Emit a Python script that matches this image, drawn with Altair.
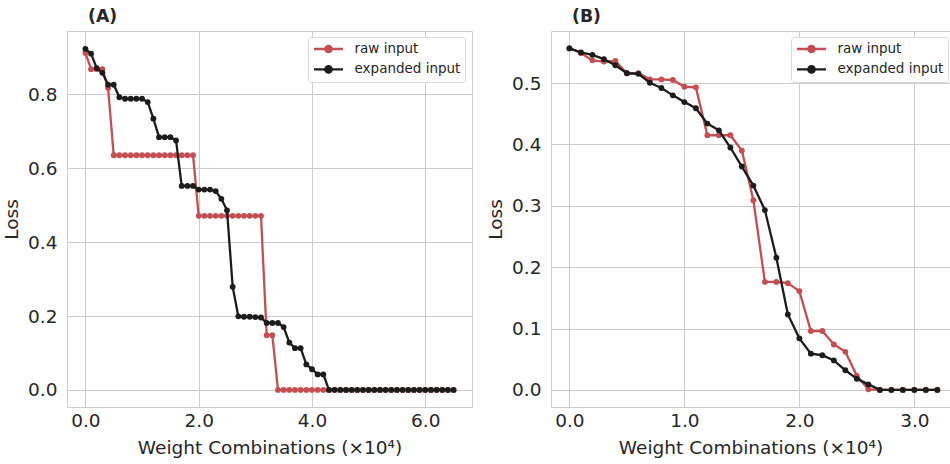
import altair as alt
import pandas as pd

FONT = "DejaVu Sans"
TEXT = "#262626"
GRID = "#cccccc"
SERIES = ["raw input", "expanded input"]
COLORS = ["#c44e52", "#1c1c1c"]
XTITLE = "Weight Combinations (×10⁴)"
YTITLE = "Loss"

# Panel (A)
a_x = [0.0, 0.1, 0.2, 0.3, 0.4, 0.5, 0.6, 0.7, 0.8, 0.9, 1.0, 1.1, 1.2, 1.3, 1.4, 1.5,
       1.6, 1.7, 1.8, 1.9, 2.0, 2.1, 2.2, 2.3, 2.4, 2.5, 2.6, 2.7, 2.8, 2.9, 3.0, 3.1,
       3.2, 3.3, 3.4, 3.5, 3.6, 3.7, 3.8, 3.9, 4.0, 4.1, 4.2, 4.3, 4.4, 4.5, 4.6, 4.7,
       4.8, 4.9, 5.0, 5.1, 5.2, 5.3, 5.4, 5.5, 5.6, 5.7, 5.8, 5.9, 6.0, 6.1, 6.2, 6.3,
       6.4, 6.5]
a_raw = [0.912, 0.868, 0.868, 0.868, 0.817,
         0.635, 0.635, 0.635, 0.635, 0.635, 0.635, 0.635, 0.635, 0.635, 0.635,
         0.635, 0.635, 0.635, 0.635, 0.635,
         0.471, 0.471, 0.471, 0.471, 0.471, 0.471, 0.471, 0.471, 0.471, 0.471,
         0.471, 0.471,
         0.148, 0.148,
         0.0, 0.0, 0.0, 0.0, 0.0, 0.0, 0.0, 0.0, 0.0, 0.0, 0.0, 0.0, 0.0, 0.0, 0.0, 0.0,
         0.0, 0.0, 0.0, 0.0, 0.0, 0.0, 0.0, 0.0, 0.0, 0.0, 0.0, 0.0, 0.0, 0.0, 0.0, 0.0]
a_exp = [0.923, 0.910, 0.871, 0.858, 0.826, 0.826, 0.792, 0.788, 0.788, 0.788, 0.788,
         0.779, 0.734, 0.684, 0.684, 0.684, 0.675, 0.552, 0.552, 0.552, 0.542, 0.542,
         0.542, 0.538, 0.517, 0.486, 0.279, 0.199, 0.198, 0.198, 0.197, 0.196, 0.181,
         0.181, 0.181, 0.170, 0.128, 0.113, 0.113, 0.069, 0.056, 0.042, 0.042,
         0.0, 0.0, 0.0, 0.0, 0.0, 0.0, 0.0, 0.0, 0.0, 0.0, 0.0, 0.0, 0.0, 0.0, 0.0, 0.0,
         0.0, 0.0, 0.0, 0.0, 0.0, 0.0, 0.0]
a_xticks = [0.0, 2.0, 4.0, 6.0]
a_yticks = [0.0, 0.2, 0.4, 0.6, 0.8]

# Panel (B)
b_x = [0.0, 0.1, 0.2, 0.3, 0.4, 0.5, 0.6, 0.7, 0.8, 0.9, 1.0, 1.1, 1.2, 1.3, 1.4, 1.5,
       1.6, 1.7, 1.8, 1.9, 2.0, 2.1, 2.2, 2.3, 2.4, 2.5, 2.6, 2.7, 2.8, 2.9, 3.0, 3.1,
       3.2]
b_raw = [0.557, 0.549, 0.537, 0.535, 0.536, 0.516, 0.516, 0.506, 0.506, 0.505, 0.494,
         0.493, 0.415, 0.415, 0.415, 0.390, 0.309, 0.176, 0.176, 0.174, 0.161, 0.096,
         0.096, 0.074, 0.062, 0.023, 0.001, 0.0, 0.0, 0.0, 0.0, 0.0, 0.0]
b_exp = [0.5565, 0.550, 0.546, 0.539, 0.529, 0.516, 0.515, 0.5005, 0.492, 0.480, 0.469,
         0.459, 0.434, 0.423, 0.395, 0.364, 0.333, 0.293, 0.2155, 0.123, 0.084, 0.059,
         0.0565, 0.048, 0.032, 0.018, 0.009, 0.0, 0.0, 0.0, 0.0, 0.0, 0.0]
b_xticks = [0.0, 1.0, 2.0, 3.0]
b_yticks = [0.0, 0.1, 0.2, 0.3, 0.4, 0.5]

LEGEND_SYMBOL = ("M-1,0L1,0M-0.22,0A0.22,0.22,0,1,0,0.22,0"
                 "A0.22,0.22,0,1,0,-0.22,0Z")


def panel(xs, raw, exp, title, xdom, ydom, w, xticks, yticks, legx):
    df = pd.DataFrame({
        "x": xs + xs,
        "loss": raw + exp,
        "series": [SERIES[0]] * len(xs) + [SERIES[1]] * len(xs),
    })
    base = alt.Chart(df)
    X = alt.X("x:Q", scale=alt.Scale(domain=xdom, nice=False, zero=False),
              axis=alt.Axis(values=xticks, format=".1f", title=XTITLE))
    Y = alt.Y("loss:Q", scale=alt.Scale(domain=ydom, nice=False, zero=False),
              axis=alt.Axis(values=yticks, format=".1f", title=YTITLE))
    sc = alt.Scale(domain=SERIES, range=COLORS)
    leg = alt.Legend(
        title=None, orient="none", legendX=legx, legendY=6,
        symbolType=LEGEND_SYMBOL, symbolSize=841, symbolStrokeWidth=2.3,
        labelFont=FONT, labelFontSize=13.5, labelColor=TEXT, labelOffset=10,
        strokeColor="#d9d9d9", fillColor="#ffffff", cornerRadius=3, padding=4.5,
        clipHeight=15, rowPadding=5.4,
    )
    layers = []
    for s in SERIES:
        sub = base.transform_filter(alt.datum.series == s)
        layers.append(sub.mark_line(strokeWidth=2.3).encode(
            x=X, y=Y, stroke=alt.Stroke("series:N", scale=sc, legend=leg)))
        layers.append(sub.mark_circle(size=34, opacity=1).encode(
            x=X, y=Y, fill=alt.Fill("series:N", scale=sc, legend=leg)))
    return alt.layer(*layers).properties(
        width=w, height=376,
        title=alt.Title(title, anchor="start", frame="group", dx=21, offset=6,
                        fontSize=17.3, fontWeight="bold", font=FONT, color=TEXT),
    )


pa = panel(a_x, a_raw, a_exp, "(A)", [-0.325, 6.825], [-0.04625, 0.97125], 405,
           a_xticks, a_yticks, 241)
pb = panel(b_x, b_raw, b_exp, "(B)", [-0.16, 3.31], [-0.02785, 0.58485], 399,
           b_xticks, b_yticks, 240)

chart = (
    alt.hconcat(pa, pb, spacing=79, bounds="flush")
    .resolve_scale(stroke="independent", fill="independent")
    .resolve_legend(stroke="independent", fill="independent")
    .properties(
        autosize=alt.AutoSizeParams(type="none"),
        padding={"left": 67, "top": 31, "right": 883, "bottom": 433},
    )
    .configure(font=FONT)
    .configure_view(stroke=GRID, strokeWidth=1)
    .configure_axis(
        grid=True, gridColor=GRID, gridWidth=1, domain=False, ticks=False,
        tickSize=0, labelFont=FONT, labelFontSize=18.5, labelColor=TEXT,
        labelPadding=10, titleFont=FONT, titleFontSize=18.5, titleColor=TEXT,
        titleFontWeight="normal",
    )
    .configure_axisX(labelPadding=4, titlePadding=9)
    .configure_axisY(titlePadding=6)
)

chart.save("out.html", embed_options={"renderer": "svg", "actions": False})
